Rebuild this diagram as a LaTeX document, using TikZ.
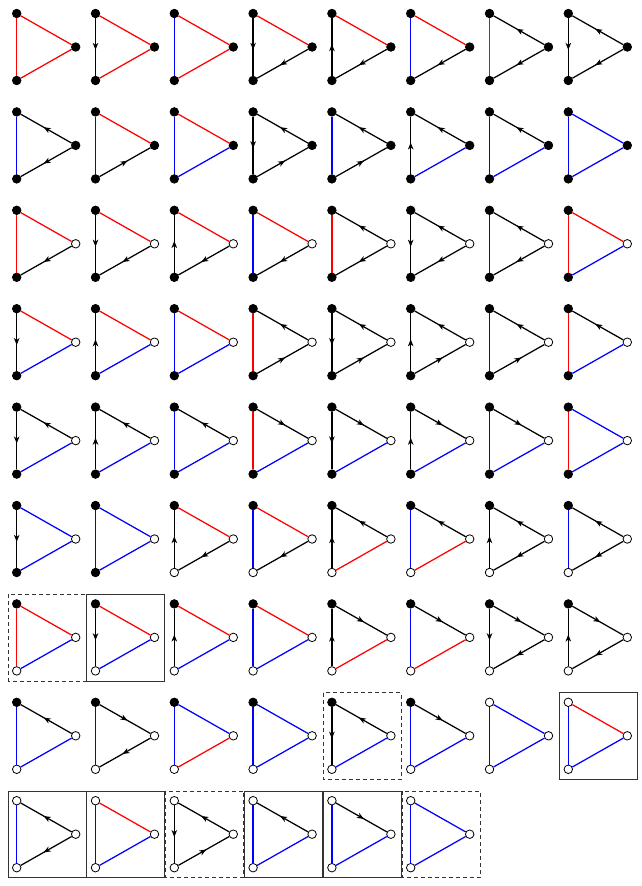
\documentclass[tikz,border=0pt]{standalone}
\usepackage{amsmath}
\usetikzlibrary{arrows.meta}
\usetikzlibrary{decorations.markings}
\usetikzlibrary{positioning}

\tikzset{
 ln/.style={line width=1.25pt},
 redge/.style={ln,red},
 bedge/.style={ln,blue},
 fwd/.style={ln,black,postaction={decorate},
  decoration={markings,mark=at position 0.55 with {\arrow{Stealth[length=7pt,width=5.5pt,inset=2pt]}}}},
 bwd/.style={ln,black,postaction={decorate},
  decoration={markings,mark=at position 0.45 with {\arrowreversed{Stealth[length=7pt,width=5.5pt,inset=2pt]}}}},
 vf/.style={circle,draw,fill=black,inner sep=0pt,minimum size=8.5pt,line width=0.8pt},
 vo/.style={vf,fill=white},
 nobox/.style={draw=none},
 sbox/.style={draw=black!80,line width=0.8pt},
 dbox/.style={draw=black!80,line width=0.8pt,dash pattern=on 4pt off 3pt},
}

% #1 col, #2 row, #3 left, #4 upper, #5 lower, #6-#8 vertices, #9 box
\newcommand{\gtri}[9]{%
 \begin{scope}[shift={(16.7+78.8*#1,-13.5-98.4*#2)}]
  \draw[#9] (-8.7,9.5) rectangle (69.3,-77);
  \node[#6] (t-#1-#2) at (0,0) {};
  \node[#7] (b-#1-#2) at (0,-67) {};
  \node[#8] (r-#1-#2) at (59,-33.5) {};
  \draw[#3] (t-#1-#2) -- (b-#1-#2);
  \draw[#4] (t-#1-#2) -- (r-#1-#2);
  \draw[#5] (b-#1-#2) -- (r-#1-#2);
 \end{scope}}

\begin{document}
\begin{tikzpicture}[x=1pt,y=1pt]
 \useasboundingbox (0,0) rectangle (642,-886);

 % row 0
 \gtri{0}{0}{redge}{redge}{redge}{vf}{vf}{vf}{nobox}
 \gtri{1}{0}{fwd}{redge}{redge}{vf}{vf}{vf}{nobox}
 \gtri{2}{0}{bedge}{redge}{redge}{vf}{vf}{vf}{nobox}
 \gtri{3}{0}{fwd}{redge}{bwd}{vf}{vf}{vf}{nobox}
 \gtri{4}{0}{bwd}{redge}{bwd}{vf}{vf}{vf}{nobox}
 \gtri{5}{0}{bedge}{redge}{bwd}{vf}{vf}{vf}{nobox}
 \gtri{6}{0}{redge}{bwd}{bwd}{vf}{vf}{vf}{nobox}
 \gtri{7}{0}{fwd}{bwd}{bwd}{vf}{vf}{vf}{nobox}

 % row 1
 \gtri{0}{1}{bedge}{bwd}{bwd}{vf}{vf}{vf}{nobox}
 \gtri{1}{1}{bedge}{redge}{fwd}{vf}{vf}{vf}{nobox}
 \gtri{2}{1}{bedge}{redge}{bedge}{vf}{vf}{vf}{nobox}
 \gtri{3}{1}{fwd}{bwd}{fwd}{vf}{vf}{vf}{nobox}
 \gtri{4}{1}{bedge}{bwd}{fwd}{vf}{vf}{vf}{nobox}
 \gtri{5}{1}{bwd}{bwd}{bedge}{vf}{vf}{vf}{nobox}
 \gtri{6}{1}{bedge}{bwd}{bedge}{vf}{vf}{vf}{nobox}
 \gtri{7}{1}{bedge}{bedge}{bedge}{vf}{vf}{vf}{nobox}

 % row 2
 \gtri{0}{2}{redge}{redge}{bwd}{vf}{vf}{vo}{nobox}
 \gtri{1}{2}{fwd}{redge}{bwd}{vf}{vf}{vo}{nobox}
 \gtri{2}{2}{bwd}{redge}{bwd}{vf}{vf}{vo}{nobox}
 \gtri{3}{2}{bedge}{redge}{bwd}{vf}{vf}{vo}{nobox}
 \gtri{4}{2}{redge}{bwd}{bwd}{vf}{vf}{vo}{nobox}
 \gtri{5}{2}{fwd}{bwd}{bwd}{vf}{vf}{vo}{nobox}
 \gtri{6}{2}{bedge}{bwd}{bwd}{vf}{vf}{vo}{nobox}
 \gtri{7}{2}{redge}{redge}{bedge}{vf}{vf}{vo}{nobox}

 % row 3
 \gtri{0}{3}{fwd}{redge}{bedge}{vf}{vf}{vo}{nobox}
 \gtri{1}{3}{bwd}{redge}{bedge}{vf}{vf}{vo}{nobox}
 \gtri{2}{3}{bedge}{redge}{bedge}{vf}{vf}{vo}{nobox}
 \gtri{3}{3}{redge}{bwd}{fwd}{vf}{vf}{vo}{nobox}
 \gtri{4}{3}{fwd}{bwd}{fwd}{vf}{vf}{vo}{nobox}
 \gtri{5}{3}{bwd}{bwd}{fwd}{vf}{vf}{vo}{nobox}
 \gtri{6}{3}{bedge}{bwd}{fwd}{vf}{vf}{vo}{nobox}
 \gtri{7}{3}{redge}{bwd}{bedge}{vf}{vf}{vo}{nobox}

 % row 4
 \gtri{0}{4}{fwd}{bwd}{bedge}{vf}{vf}{vo}{nobox}
 \gtri{1}{4}{bwd}{bwd}{bedge}{vf}{vf}{vo}{nobox}
 \gtri{2}{4}{bedge}{bwd}{bedge}{vf}{vf}{vo}{nobox}
 \gtri{3}{4}{redge}{fwd}{bedge}{vf}{vf}{vo}{nobox}
 \gtri{4}{4}{fwd}{fwd}{bedge}{vf}{vf}{vo}{nobox}
 \gtri{5}{4}{bwd}{fwd}{bedge}{vf}{vf}{vo}{nobox}
 \gtri{6}{4}{bedge}{fwd}{bedge}{vf}{vf}{vo}{nobox}
 \gtri{7}{4}{redge}{bedge}{bedge}{vf}{vf}{vo}{nobox}

 % row 5
 \gtri{0}{5}{fwd}{bedge}{bedge}{vf}{vf}{vo}{nobox}
 \gtri{1}{5}{bedge}{bedge}{bedge}{vf}{vf}{vo}{nobox}
 \gtri{2}{5}{bwd}{redge}{bwd}{vf}{vo}{vo}{nobox}
 \gtri{3}{5}{bedge}{redge}{bwd}{vf}{vo}{vo}{nobox}
 \gtri{4}{5}{bwd}{bwd}{redge}{vf}{vo}{vo}{nobox}
 \gtri{5}{5}{bedge}{bwd}{redge}{vf}{vo}{vo}{nobox}
 \gtri{6}{5}{bwd}{bwd}{bwd}{vf}{vo}{vo}{nobox}
 \gtri{7}{5}{bedge}{bwd}{bwd}{vf}{vo}{vo}{nobox}

 % row 6
 \gtri{0}{6}{redge}{redge}{bedge}{vf}{vo}{vo}{dbox}
 \gtri{1}{6}{fwd}{redge}{bedge}{vf}{vo}{vo}{sbox}
 \gtri{2}{6}{bwd}{redge}{bedge}{vf}{vo}{vo}{nobox}
 \gtri{3}{6}{bedge}{redge}{bedge}{vf}{vo}{vo}{nobox}
 \gtri{4}{6}{bwd}{fwd}{redge}{vf}{vo}{vo}{nobox}
 \gtri{5}{6}{bedge}{fwd}{redge}{vf}{vo}{vo}{nobox}
 \gtri{6}{6}{fwd}{fwd}{bwd}{vf}{vo}{vo}{nobox}
 \gtri{7}{6}{bwd}{fwd}{bwd}{vf}{vo}{vo}{nobox}

 % row 7
 \gtri{0}{7}{bedge}{bwd}{bedge}{vf}{vo}{vo}{nobox}
 \gtri{1}{7}{bedge}{fwd}{bwd}{vf}{vo}{vo}{nobox}
 \gtri{2}{7}{bedge}{bedge}{redge}{vf}{vo}{vo}{nobox}
 \gtri{3}{7}{bedge}{bedge}{bedge}{vf}{vo}{vo}{nobox}
 \gtri{4}{7}{fwd}{bwd}{bedge}{vf}{vo}{vo}{dbox}
 \gtri{5}{7}{bedge}{fwd}{bedge}{vf}{vo}{vo}{nobox}
 \gtri{6}{7}{bedge}{bedge}{bedge}{vo}{vo}{vo}{nobox}
 \gtri{7}{7}{bedge}{redge}{bedge}{vo}{vo}{vo}{sbox}

 % row 8
 \gtri{0}{8}{bedge}{bwd}{bwd}{vo}{vo}{vo}{sbox}
 \gtri{1}{8}{bedge}{redge}{bedge}{vo}{vo}{vo}{sbox}
 \gtri{2}{8}{fwd}{bwd}{fwd}{vo}{vo}{vo}{dbox}
 \gtri{3}{8}{bedge}{bwd}{bedge}{vo}{vo}{vo}{sbox}
 \gtri{4}{8}{bedge}{fwd}{bedge}{vo}{vo}{vo}{sbox}
 \gtri{5}{8}{bedge}{bedge}{bedge}{vo}{vo}{vo}{dbox}
\end{tikzpicture}
\end{document}
